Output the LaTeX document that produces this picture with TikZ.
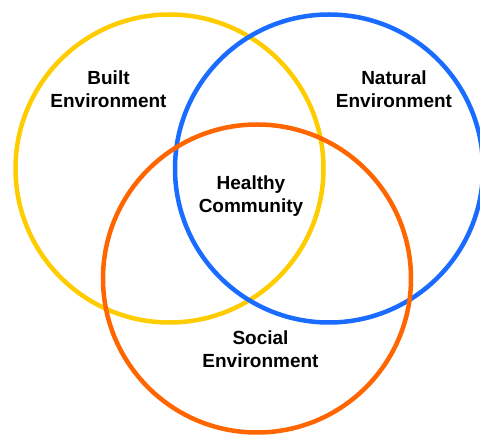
\documentclass[tikz,border=0pt]{standalone}
\usepackage{fontspec}
\setmainfont{Liberation Sans}
\definecolor{cyellow}{HTML}{FFCC00}
\definecolor{cblue}{HTML}{1A6BFF}
\definecolor{corange}{HTML}{FF6600}
\begin{document}
\begin{tikzpicture}[x=1pt,y=-1pt,
  ring/.style={line width=4.5pt},
  lbl/.style={align=center, anchor=base, inner sep=0pt,
    font=\fontsize{19}{23}\selectfont\bfseries}]
\useasboundingbox (0,0) rectangle (480,435);
\draw[ring, cyellow] (169.5,168.5) circle[radius=154];
\draw[ring, cblue] (329,168.5) circle[radius=154];
\draw[ring, corange] (257,278.5) circle[radius=154];
\node[lbl] (built) at (108.5,108) {Built\\Environment};
\node[lbl] (natural) at (394,108) {Natural\\Environment};
\node[lbl] (healthy) at (251,213) {Healthy\\Community};
\node[lbl] (social) at (260.5,368) {Social\\Environment};
\end{tikzpicture}
\end{document}
